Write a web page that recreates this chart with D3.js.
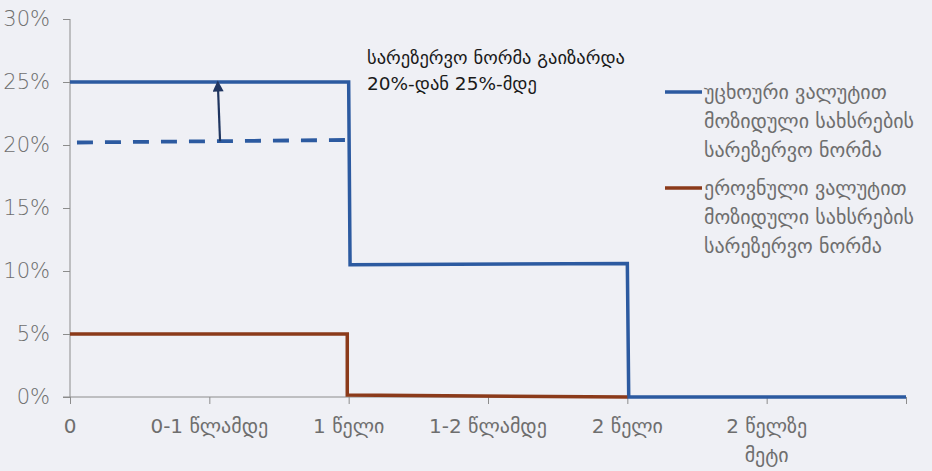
<!DOCTYPE html>
<html>
<head>
<meta charset="utf-8">
<script src="https://cdn.jsdelivr.net/npm/d3@7"></script>
<style>
  html, body { margin: 0; padding: 0; background: #eff0f5; }
  svg { display: block; }
  text { font-family: "DejaVu Sans", sans-serif; }
</style>
</head>
<body>
<svg id="chart" width="932" height="471"></svg>
<script>
// Category labels along the maturity axis (last slot is unlabeled end of axis)
const categories = ["0", "0-1 წლამდე", "1 წელი", "1-2 წლამდე", "2 წელი", "2 წელზე მეტი", ""];
const yTicks = [0, 5, 10, 15, 20, 25, 30];

// Reserve requirement in foreign currency (step profile, category index → %)
const fxPos    = [0, 2, 2.01, 4, 4.01, 6];
const fxValues = [25, 25, 10.5, 10.6, 0, 0];

// Previous foreign currency requirement (dashed)
const fxOldPos    = [0.05, 2];
const fxOldValues = [20.2, 20.4];

// Reserve requirement in national currency
const gelPos    = [0, 1.99, 1.99, 4];
const gelValues = [5, 5, 0.15, 0];

// Arrow from the old level to the new level
const arrowPos    = [1.077, 1.062];
const arrowValues = [20.3, 24.6];

const legendFx  = ["უცხოური ვალუტით", "მოზიდული სახსრების", "სარეზერვო ნორმა"];
const legendGel = ["ეროვნული ვალუტით", "მოზიდული სახსრების", "სარეზერვო ნორმა"];
const note = ["სარეზერვო ნორმა გაიზარდა", "20%-დან 25%-მდე"];

const blue = "#2c5aa0", brown = "#8b3a1a", navy = "#1f3560", axisGrey = "#8c8c8c", labelGrey = "#6e6e6e";

const svg = d3.select("#chart");
const x = d3.scaleLinear().domain([0, categories.length - 1]).range([70, 906]);
const y = d3.scaleLinear().domain([0, 30]).range([397, 19]);

// Y axis
const yAxis = svg.append("g").attr("transform", "translate(70,0)")
  .call(d3.axisLeft(y).tickValues(yTicks).tickSize(7).tickPadding(13).tickFormat(d => d + "%"));
yAxis.select(".domain").attr("stroke", axisGrey).attr("d", `M0,${y(30)}V${y(0)}`);
yAxis.selectAll(".tick line").attr("stroke", axisGrey);
yAxis.selectAll(".tick text").attr("fill", labelGrey).attr("font-size", 21)
  .attr("font-weight", 300).attr("font-family", "Lato, 'DejaVu Sans', sans-serif");

// X axis
const xAxis = svg.append("g").attr("transform", `translate(0,${y(0)})`)
  .call(d3.axisBottom(x).tickValues(d3.range(categories.length)).tickSize(7).tickFormat(() => ""));
xAxis.select(".domain").attr("stroke", axisGrey).attr("d", `M63,0H${x(categories.length - 1)}`);
xAxis.selectAll(".tick line").attr("stroke", axisGrey);

// X labels (wrapped onto two lines where needed)
const xLabelLines = categories.map(c => c === "2 წელზე მეტი" ? ["2 წელზე", "მეტი"] : [c]);
const xl = svg.append("g").selectAll("text").data(categories).join("text")
  .attr("x", (d, i) => x(i)).attr("y", 433)
  .attr("text-anchor", "middle").attr("fill", labelGrey).attr("font-size", 20);
xl.each(function(d, i) {
  d3.select(this).selectAll("tspan").data(xLabelLines[i]).join("tspan")
    .attr("x", x(i)).attr("dy", (t, j) => j === 0 ? 0 : 29).text(t => t);
});

const line = d3.line().x(d => x(d[0])).y(d => y(d[1]));

// Old foreign currency level (dashed)
svg.append("path").datum(d3.zip(fxOldPos, fxOldValues))
  .attr("d", line).attr("fill", "none").attr("stroke", blue)
  .attr("stroke-width", 3.8).attr("stroke-dasharray", "16,12");

// Foreign currency requirement
svg.append("path").datum(d3.zip(fxPos, fxValues))
  .attr("d", line).attr("fill", "none").attr("stroke", blue).attr("stroke-width", 3.5);

// National currency requirement
svg.append("path").datum(d3.zip(gelPos, gelValues))
  .attr("d", line).attr("fill", "none").attr("stroke", brown).attr("stroke-width", 3.5);

// Arrow
svg.append("defs").append("marker").attr("id", "head")
  .attr("viewBox", "0 0 10 10").attr("refX", 4).attr("refY", 5)
  .attr("markerWidth", 5.5).attr("markerHeight", 5).attr("orient", "auto")
  .attr("markerUnits", "strokeWidth")
  .append("path").attr("d", "M0,0L10,5L0,10Z").attr("fill", navy);
svg.append("path").datum(d3.zip(arrowPos, arrowValues))
  .attr("d", line).attr("fill", "none").attr("stroke", navy).attr("stroke-width", 2.2)
  .attr("marker-end", "url(#head)");

// Annotation
svg.append("text").attr("x", 367).attr("y", 64).attr("fill", "#1a1a1a").attr("font-size", 18.5)
  .selectAll("tspan").data(note).join("tspan")
  .attr("x", 367).attr("dy", (d, i) => i === 0 ? 0 : 26).text(d => d);

// Legend
function legendEntry(lines, color, top) {
  const g = svg.append("g");
  g.append("line").attr("x1", 665).attr("x2", 702).attr("y1", top).attr("y2", top)
    .attr("stroke", color).attr("stroke-width", 3.5);
  g.append("text").attr("x", 704).attr("y", top + 7).attr("fill", labelGrey).attr("font-size", 20)
    .selectAll("tspan").data(lines).join("tspan")
    .attr("x", 704).attr("dy", (d, i) => i === 0 ? 0 : 29).text(d => d);
}
legendEntry(legendFx, blue, 92);
legendEntry(legendGel, brown, 188);
</script>
</body>
</html>
